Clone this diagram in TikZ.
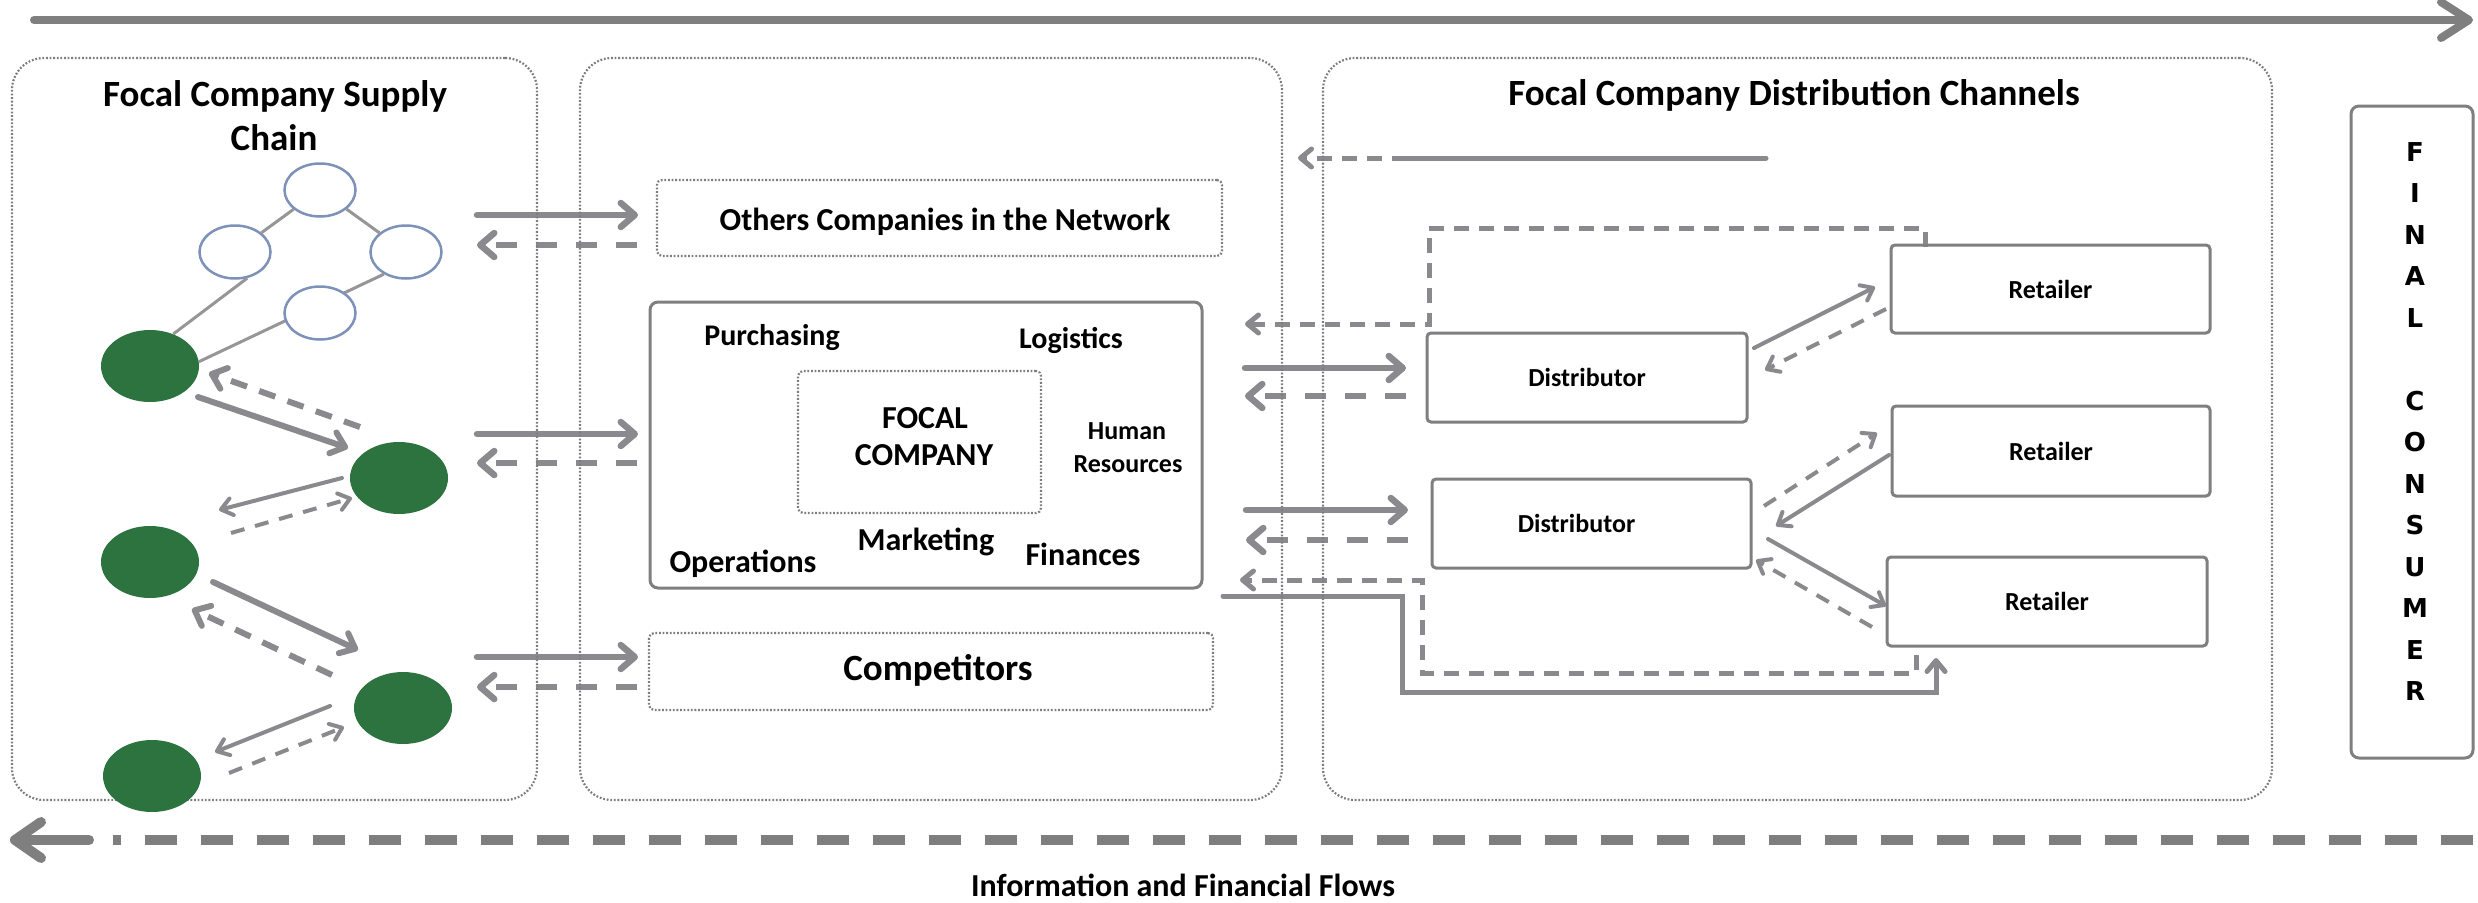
\documentclass[tikz,border=0pt]{standalone}
\usepackage{fontspec}
\setmainfont{Carlito}
\newfontfamily\verdfont{DejaVu Sans}
\usetikzlibrary{arrows.meta,shapes.geometric}
\definecolor{agray}{RGB}{138,138,142}
\definecolor{bgray}{RGB}{127,127,127}
\definecolor{dgray}{RGB}{125,125,125}
\definecolor{dgreen}{RGB}{45,115,64}
\definecolor{wblue}{RGB}{125,145,185}
\definecolor{egray}{RGB}{150,150,150}
\newcommand\myfs[1]{\fontsize{#1pt}{#1pt}\selectfont\bfseries}
\begin{document}
\begin{tikzpicture}[x=1pt,y=-1pt,
  grp/.style={draw=dgray,line width=2.2pt,dash pattern=on 1.8pt off 1.8pt,rounded corners=32pt,inner sep=0pt},
  dbox/.style={draw=dgray,line width=2.2pt,dash pattern=on 1.8pt off 1.8pt,rounded corners=5pt,inner sep=0pt},
  sbox/.style={draw=bgray,line width=3pt,rounded corners=4pt,inner sep=0pt,font=\myfs{26}},
  rbig/.style={draw=bgray,line width=3pt,rounded corners=8pt,inner sep=0pt},
  lbl/.style={anchor=base,inner sep=0pt,text=black},
  wc/.style={ellipse,draw=wblue,line width=2.5pt,fill=white,minimum width=71pt,minimum height=53pt,inner sep=0pt},
  gc/.style={ellipse,fill=dgreen,minimum width=98pt,minimum height=72pt,inner sep=0pt},
  lnk/.style={draw=egray,line width=3pt},
  bigS/.style={draw=bgray,line width=8pt,line cap=round,-{Straight Barb[length=28pt,width=36pt,round]}},
  bigD/.style={draw=bgray,line width=10pt,dash pattern=on 32pt off 24pt},
  bigT/.style={draw=bgray,line width=10pt,line cap=round,-{Straight Barb[length=26pt,width=36pt,round]}},
  pairS/.style={draw=agray,line width=6.5pt,line cap=round,-{Straight Barb[length=14pt,width=24pt,round]}},
  pairD/.style={pairS,line cap=butt,dash pattern=on 21pt off 19pt},
  medS/.style={draw=agray,line width=5pt,line cap=round,-{Straight Barb[length=11pt,width=18pt,round]}},
  medD/.style={medS,line cap=butt,dash pattern=on 15pt off 10pt},
  medL/.style={draw=agray,line width=5pt,line cap=round},
  thkS/.style={draw=agray,line width=6pt,line cap=round,-{Straight Barb[length=13pt,width=22pt,round]}},
  thkD/.style={thkS,line cap=butt,dash pattern=on 17pt off 13pt},
  thnS/.style={draw=agray,line width=4pt,line cap=round,-{Straight Barb[length=11pt,width=17pt,round]}},
  thnD/.style={thnS,line cap=butt,dash pattern=on 14pt off 11pt}
]
\useasboundingbox (0,0) rectangle (2478,902);

% ---------- top and bottom flows
\coordinate (tA) at (34,20); \coordinate (tB) at (2473,20);
\draw[bigS] (tA) -- (tB);
\coordinate (bR) at (2473,840); \coordinate (bL) at (113,840);
\coordinate (bA) at (89,840); \coordinate (bT) at (10,840);
\draw[bigD] (bR) -- (bL);
\draw[bigT] (bA) -- (bT);
\node[lbl,font=\myfs{32}] (info) at (1183,896) {Information and Financial Flows};

% ---------- arrows left column -> middle
\coordinate (a1s) at (477,215); \coordinate (a1e) at (638,215);
\coordinate (a1d) at (637,245); \coordinate (a1f) at (477,245);
\coordinate (a2s) at (477,434); \coordinate (a2e) at (638,434);
\coordinate (a2d) at (637,463); \coordinate (a2f) at (477,463);
\coordinate (a3s) at (477,657); \coordinate (a3e) at (638,657);
\coordinate (a3d) at (637,687); \coordinate (a3f) at (477,687);
\draw[pairS] (a1s) -- (a1e); \draw[pairD] (a1d) -- (a1f);
\draw[pairS] (a2s) -- (a2e); \draw[pairD] (a2d) -- (a2f);
\draw[pairS] (a3s) -- (a3e); \draw[pairD] (a3d) -- (a3f);

% ---------- arrows middle <-> distribution
\coordinate (fbA) at (1766,158); \coordinate (fbB) at (1407,158); \coordinate (fbC) at (1298,158);
\draw[medL] (fbA) -- (fbB);
\draw[medD] (fbB) -- (fbC);
\coordinate (b2s) at (1245,368); \coordinate (b2e) at (1406,368);
\coordinate (b2d) at (1406,396); \coordinate (b2f) at (1245,396);
\coordinate (b3s) at (1246,510); \coordinate (b3e) at (1408,510);
\coordinate (b3d) at (1408,540); \coordinate (b3f) at (1246,540);
\draw[pairS] (b2s) -- (b2e); \draw[pairD] (b2d) -- (b2f);
\draw[pairS] (b3s) -- (b3e); \draw[pairD] (b3d) -- (b3f);
\coordinate (b1s) at (1925,247); \coordinate (b1k) at (1429,228); \coordinate (b1e) at (1245,324);
\draw[medD] (b1s) |- (b1k) |- (b1e);
\coordinate (b4s) at (1916,655); \coordinate (b4k) at (1422,673); \coordinate (b4e) at (1240,580);
\draw[medD] (b4s) |- (b4k) |- (b4e);
\coordinate (b5s) at (1223,596); \coordinate (b5k) at (1402,692); \coordinate (b5e) at (1936,658);
\draw[medS,line join=miter] (b5s) -| (b5k) -| (b5e);

% ---------- distributor <-> retailer arrows
\coordinate (c1s) at (1754,348); \coordinate (c1e) at (1875,287);
\coordinate (c1d) at (1886,309); \coordinate (c1f) at (1765,370);
\coordinate (c2d) at (1764,506); \coordinate (c2f) at (1877,433);
\coordinate (c2s) at (1889,455); \coordinate (c2e) at (1776,526);
\coordinate (c3s) at (1768,539); \coordinate (c3e) at (1886,606);
\coordinate (c3d) at (1872,627); \coordinate (c3f) at (1756,560);
\draw[thnS] (c1s) -- (c1e); \draw[thnD] (c1d) -- (c1f);
\draw[thnD] (c2d) -- (c2f); \draw[thnS] (c2s) -- (c2e);
\draw[thnS] (c3s) -- (c3e); \draw[thnD] (c3d) -- (c3f);

% ---------- arrows between green companies
\coordinate (g1a) at (198,397); \coordinate (g1b) at (348,448);
\coordinate (g1c) at (360,427); \coordinate (g1d) at (209,373);
\coordinate (g2a) at (342,478); \coordinate (g2b) at (219,510);
\coordinate (g2c) at (231,533); \coordinate (g2d) at (352,498);
\coordinate (g3a) at (213,582); \coordinate (g3b) at (358,650);
\coordinate (g3c) at (332,675); \coordinate (g3d) at (192,609);
\coordinate (g4a) at (330,706); \coordinate (g4b) at (215,752);
\coordinate (g4c) at (229,773); \coordinate (g4d) at (344,727);
\draw[thkS] (g1a) -- (g1b); \draw[thkD] (g1c) -- (g1d);
\draw[thnS] (g2a) -- (g2b); \draw[thnD] (g2c) -- (g2d);
\draw[thkS] (g3a) -- (g3b); \draw[thkD] (g3c) -- (g3d);
\draw[thnS] (g4a) -- (g4b); \draw[thnD] (g4c) -- (g4d);

% ---------- group frames
\node[grp,minimum width=525pt,minimum height=742pt] (gL) at (274.5,429) {};
\node[grp,minimum width=702pt,minimum height=742pt] (gM) at (931,429) {};
\node[grp,minimum width=949pt,minimum height=742pt] (gR) at (1797.5,429) {};
\node[lbl,font=\myfs{37}] (tL1) at (275,106) {Focal Company Supply};
\node[lbl,font=\myfs{37}] (tL2) at (274,150) {Chain};
\node[lbl,font=\myfs{37}] (tR) at (1794,105) {Focal Company Distribution Channels};

% ---------- middle column
\node[dbox,minimum width=565pt,minimum height=76pt] (oth) at (939.5,218) {};
\node[lbl,font=\myfs{32}] (othT) at (945,230) {Others Companies in the Network};
\node[rbig,minimum width=552pt,minimum height=286pt] (foc) at (926,445) {};
\node[dbox,minimum width=243pt,minimum height=142pt] (inn) at (919.5,442) {};
\node[lbl,font=\myfs{30}] (pur) at (772,345) {Purchasing};
\node[lbl,font=\myfs{30}] (log) at (1071,348) {Logistics};
\node[lbl,font=\myfs{32}] (fo1) at (925,428) {FOCAL};
\node[lbl,font=\myfs{32}] (fo2) at (924,465) {COMPANY};
\node[lbl,font=\myfs{26}] (hu1) at (1127,439) {Human};
\node[lbl,font=\myfs{26}] (hu2) at (1128,472) {Resources};
\node[lbl,font=\myfs{32}] (mkt) at (926,550) {Marketing};
\node[lbl,font=\myfs{32}] (ope) at (743,572) {Operations};
\node[lbl,font=\myfs{32}] (fin) at (1083,565) {Finances};
\node[dbox,minimum width=564pt,minimum height=77pt] (comp) at (931,671.5) {};
\node[lbl,font=\myfs{37}] (compT) at (938,680) {Competitors};

% ---------- distribution column
\node[sbox,minimum width=320pt,minimum height=89pt] (d1) at (1587,377.5) {Distributor};
\node[sbox,minimum width=319pt,minimum height=89pt] (d2) at (1591.5,523.5) {\hspace*{-30pt}Distributor};
\node[sbox,minimum width=319pt,minimum height=88pt] (r1) at (2050.5,289) {Retailer};
\node[sbox,minimum width=318pt,minimum height=90pt] (r2) at (2051,451) {Retailer};
\node[sbox,minimum width=320pt,minimum height=89pt] (r3) at (2047,601.5) {Retailer};

% ---------- final consumer
\node[rbig,minimum width=122pt,minimum height=652pt] (fc) at (2412,432) {};
\foreach \l/\k in {F/0,I/1,N/2,A/3,L/4,C/6,O/7,N/8,S/9,U/10,M/11,E/12,R/13}
  \node[lbl,font=\verdfont\bfseries\fontsize{26pt}{26pt}\selectfont] (fcl\k) at (2415,{161+41.5*\k}) {\l};

% ---------- supply chain network
\node[wc] (w1) at (320,190) {};
\node[wc] (w2) at (235,252) {};
\node[wc] (w3) at (406,252) {};
\node[gc] (c1) at (150,366) {};
\node[gc] (c2) at (399,478) {};
\node[gc] (c3) at (150,562) {};
\node[gc] (c4) at (403,708) {};
\node[gc] (c5) at (152,776) {};
\draw[lnk] (w1) -- (w2);
\draw[lnk] (w1) -- (w3);
\draw[lnk] (w2.-65) -- (c1.54);
\draw[lnk] (w3.-135) -- (c1.5);
\node[wc] (w4) at (320,313) {};
\end{tikzpicture}
\end{document}
